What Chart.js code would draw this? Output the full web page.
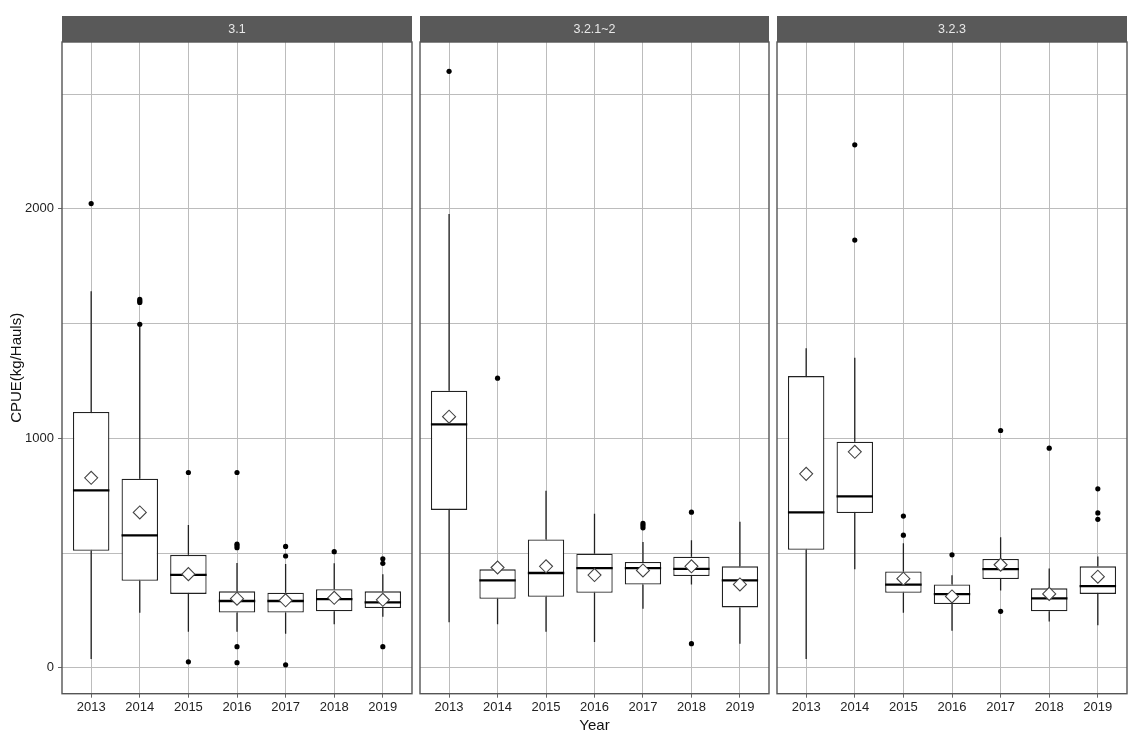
<!DOCTYPE html>
<html>
<head>
<meta charset="utf-8">
<script src="https://cdn.jsdelivr.net/npm/chart.js@4"></script>
<style>
  html, body { margin: 0; padding: 0; background: #fff; }
  #wrap { position: relative; width: 1143px; height: 742px; overflow: hidden; }
  canvas { position: absolute; top: 0; }
</style>
</head>
<body>
<div id="wrap">
  <canvas id="c0" width="414" height="742" style="left:0px"></canvas>
  <canvas id="c1" width="352" height="742" style="left:419px"></canvas>
  <canvas id="c2" width="354" height="742" style="left:776px"></canvas>
</div>
<script>
// facets and categories
const PANELS = ['3.1', '3.2.1~2', '3.2.3'];
const YEARS = ['2013', '2014', '2015', '2016', '2017', '2018', '2019'];
const Y_TICKS = [0, 500, 1000, 1500, 2000, 2500];

// box stats per panel (rows) per year (columns)
const WHISK_LO = [
    [38, 240, 157, 157, 148, 190, 222],
    [198, 190, 157, 112, 257, 363, 105],
    [38, 429, 240, 161, 337, 202, 185]
];
const Q1 = [
    [510, 379, 322, 241, 241, 246, 260],
    [688, 301, 309, 327, 363, 400, 263],
    [514, 674, 327, 278, 387, 246, 322]
];
const MEDIAN = [
    [773, 577, 405, 291, 291, 299, 285],
    [1061, 381, 413, 434, 434, 431, 381],
    [677, 747, 362, 321, 430, 302, 356]
];
const Q3 = [
    [1115, 824, 492, 333, 327, 342, 333],
    [1207, 429, 559, 497, 461, 484, 442],
    [1271, 985, 420, 363, 474, 346, 442]
];
const WHISK_HI = [
    [1641, 1490, 622, 457, 452, 456, 407],
    [1977, 429, 771, 671, 548, 556, 636],
    [1392, 1351, 543, 403, 569, 433, 485]
];
const MEAN = [
    [828, 677, 408, 301, 294, 305, 296],
    [1094, 437, 442, 404, 424, 442, 363],
    [845, 941, 388, 311, 449, 322, 397]
];
const OUTLIERS = [
    [[2023], [1605, 1598, 1592, 1497], [851, 26], [851, 539, 532, 523, 92, 22], [529, 487, 13], [506], [475, 455, 92]],
    [[2599], [1262], [], [], [629, 620, 610], [678, 105], []],
    [[], [2279, 1864], [661, 578], [492], [1034, 246], [957], [780, 675, 647]]
];

const Y_MIN = -113;
const Y_MAX = 2727;
const BOX_W = 0.75;
const FONT = 'Liberation Sans, Arial, sans-serif';
const GRID = '#bcbcbc';
const INK = '#222222';

// strip on top + panel border
const facetDecor = {
    id: 'facetDecor',
    afterDraw(chart, args, opts) {
        const a = chart.chartArea;
        const ctx = chart.ctx;
        ctx.save();
        ctx.fillStyle = '#595959';
        ctx.fillRect(a.left, 16, a.right - a.left, a.top - 16);
        ctx.fillStyle = '#e8e8e8';
        ctx.font = '12.5px ' + FONT;
        ctx.textAlign = 'center';
        ctx.textBaseline = 'middle';
        ctx.fillText(opts.label, (a.left + a.right) / 2, (16 + a.top) / 2 + 0.5);
        ctx.strokeStyle = '#555555';
        ctx.lineWidth = 1.4;
        ctx.strokeRect(a.left, a.top, a.right - a.left, a.bottom - a.top);
        ctx.restore();
    }
};

function buildPanel(canvasId, p) {
    const first = p === 0;
    const middle = p === 1;

    const boxes = YEARS.map((y, i) => ({ x: i, y: [Q1[p][i], Q3[p][i]] }));

    const whiskers = [];
    YEARS.forEach((y, i) => {
        whiskers.push({ x: i, y: Q3[p][i] }, { x: i, y: WHISK_HI[p][i] }, { x: i, y: null });
        whiskers.push({ x: i, y: Q1[p][i] }, { x: i, y: WHISK_LO[p][i] }, { x: i, y: null });
    });

    const medians = [];
    YEARS.forEach((y, i) => {
        medians.push({ x: i - BOX_W / 2, y: MEDIAN[p][i] }, { x: i + BOX_W / 2, y: MEDIAN[p][i] }, { x: i, y: null });
    });

    const outs = [];
    OUTLIERS[p].forEach((list, i) => list.forEach(v => outs.push({ x: i, y: v })));

    const means = YEARS.map((y, i) => ({ x: i, y: MEAN[p][i] }));

    return new Chart(document.getElementById(canvasId), {
        type: 'bar',
        data: {
            datasets: [
                {
                    type: 'scatter',
                    data: means,
                    pointStyle: 'rectRot',
                    pointRadius: 6.5,
                    backgroundColor: '#ffffff',
                    borderColor: '#444444',
                    borderWidth: 1.1,
                    order: 1
                },
                {
                    type: 'scatter',
                    data: outs,
                    pointRadius: 2.6,
                    backgroundColor: '#000000',
                    borderWidth: 0,
                    order: 2
                },
                {
                    type: 'line',
                    data: medians,
                    borderColor: '#000000',
                    borderWidth: 2.3,
                    pointRadius: 0,
                    spanGaps: false,
                    order: 3
                },
                {
                    type: 'line',
                    data: whiskers,
                    borderColor: INK,
                    borderWidth: 1.3,
                    pointRadius: 0,
                    spanGaps: false,
                    order: 4
                },
                {
                    type: 'bar',
                    data: boxes,
                    backgroundColor: '#ffffff',
                    borderColor: INK,
                    borderWidth: 1.3,
                    borderSkipped: false,
                    barPercentage: BOX_W,
                    categoryPercentage: 1,
                    order: 5
                }
            ]
        },
        options: {
            responsive: false,
            animation: false,
            layout: {
                autoPadding: false,
                padding: { top: 42, left: 0, right: p === 2 ? 3 : 2, bottom: 0 }
            },
            plugins: {
                legend: { display: false },
                tooltip: { enabled: false },
                facetDecor: { label: PANELS[p] }
            },
            scales: {
                x: {
                    type: 'linear',
                    min: -0.6,
                    max: 6.6,
                    offset: false,
                    afterFit: s => { s.height = 48.3; },
                    afterBuildTicks: s => { s.ticks = YEARS.map((y, i) => ({ value: i })); },
                    ticks: {
                        autoSkip: false,
                        maxRotation: 0,
                        padding: 2,
                        color: INK,
                        font: { family: FONT, size: 13 },
                        callback: v => YEARS[v] !== undefined ? YEARS[v] : ''
                    },
                    grid: { offset: false, color: GRID, lineWidth: 1, tickLength: 4, tickColor: '#666' },
                    border: { display: false },
                    title: {
                        display: middle,
                        text: 'Year',
                        color: '#111',
                        font: { family: FONT, size: 15 },
                        padding: { top: 0, bottom: 7 }
                    }
                },
                y: {
                    min: Y_MIN,
                    max: Y_MAX,
                    afterFit: s => { s.width = first ? 62 : 1; },
                    afterBuildTicks: s => { s.ticks = Y_TICKS.map(v => ({ value: v })); },
                    ticks: {
                        display: first,
                        padding: 4,
                        color: INK,
                        font: { family: FONT, size: 13 },
                        callback: v => v % 1000 === 0 ? String(v) : ''
                    },
                    grid: {
                        color: GRID,
                        lineWidth: 1,
                        drawTicks: first,
                        tickLength: 4,
                        tickColor: ctx => (ctx.tick && ctx.tick.value % 1000 === 0) ? '#666' : 'rgba(0,0,0,0)'
                    },
                    border: { display: false },
                    title: {
                        display: first,
                        text: 'CPUE(kg/Hauls)',
                        color: '#111',
                        font: { family: FONT, size: 15 },
                        padding: { top: 8, bottom: 2 }
                    }
                }
            }
        },
        plugins: [facetDecor]
    });
}

buildPanel('c0', 0);
buildPanel('c1', 1);
buildPanel('c2', 2);
</script>
</body>
</html>
